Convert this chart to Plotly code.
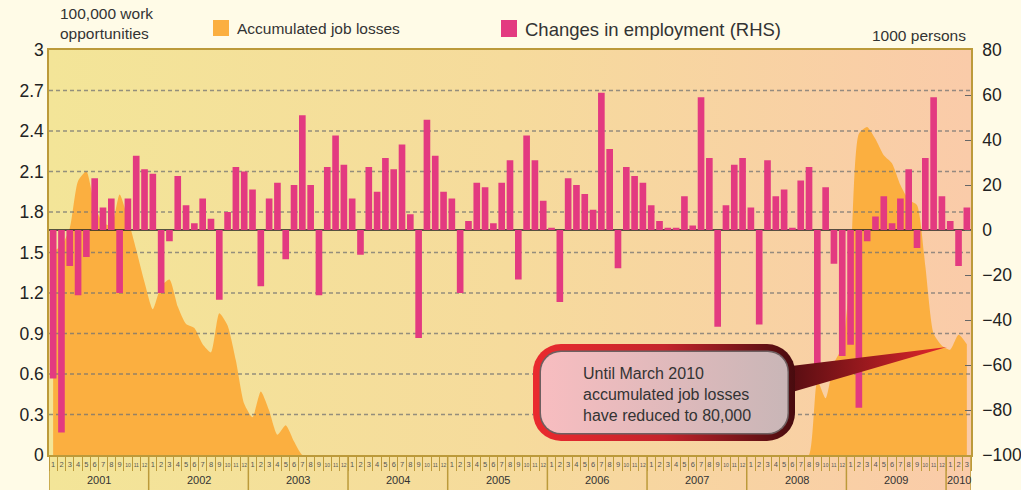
import base64
import plotly.graph_objects as go

# ---------------- data ----------------
years = list(range(2001, 2011))
months_per_year = [12] * 9 + [3]

# Changes in employment, 1000 persons (RHS), Jan 2001 - Mar 2010
emp_change = [
    -66, -90, -16, -29, -12, 23, 10, 14, -28, 14, 33, 27,   # 2001
    25, -28, -5, 24, 11, 3, 14, 5, -31, 8, 28, 26,          # 2002
    18, -25, 14, 21, -13, 20, 51, 20, -29, 28, 42, 29,      # 2003
    14, -11, 28, 17, 32, 27, 38, 7, -48, 49, 33, 17,        # 2004
    14, -28, 4, 21, 19, 3, 21, 31, -22, 42, 31, 13,         # 2005
    1, -32, 23, 20, 16, 9, 61, 36, -17, 28, 24, 21,         # 2006
    11, 4, 1, 1, 15, 2, 59, 32, -43, 11, 29, 32,            # 2007
    10, -42, 31, 15, 18, 1, 22, 28, -60, 19, -15, -56,      # 2008
    -51, -79, -5, 6, 15, 3, 14, 27, -8, 32, 59, 15,         # 2009
    4, -16, 10,                                             # 2010
]

# Accumulated job losses, 100,000 work opportunities (LHS)
acc_losses = [
    1.51, 1.55, 1.68, 2.03, 2.10, 1.85, 1.72, 1.70, 1.93, 1.75, 1.52, 1.28,   # 2001
    1.08, 1.25, 1.30, 1.10, 0.97, 0.94, 0.82, 0.76, 1.05, 0.96, 0.70, 0.38,   # 2002
    0.28, 0.47, 0.33, 0.15, 0.22, 0.10, 0.0, 0.0, 0.0, 0.0, 0.0, 0.0,         # 2003
    0.0, 0.0, 0.0, 0.0, 0.0, 0.0, 0.0, 0.0, 0.0, 0.0, 0.0, 0.0,               # 2004
    0.0, 0.0, 0.0, 0.0, 0.0, 0.0, 0.0, 0.0, 0.0, 0.0, 0.0, 0.0,               # 2005
    0.0, 0.0, 0.0, 0.0, 0.0, 0.0, 0.0, 0.0, 0.0, 0.0, 0.0, 0.0,               # 2006
    0.0, 0.0, 0.0, 0.0, 0.0, 0.0, 0.0, 0.0, 0.0, 0.0, 0.0, 0.0,               # 2007
    0.0, 0.0, 0.0, 0.0, 0.0, 0.0, 0.0, 0.0, 0.55, 0.42, 0.68, 0.80,          # 2008
    1.40, 2.38, 2.43, 2.34, 2.22, 2.16, 2.00, 1.89, 1.85, 1.40, 0.90, 0.81,   # 2009
    0.78, 0.89, 0.82,                                                         # 2010
]

left_ticks = [0, 0.3, 0.6, 0.9, 1.2, 1.5, 1.8, 2.1, 2.4, 2.7, 3]
left_tick_text = ["0", "0.3", "0.6", "0.9", "1.2", "1.5", "1.8", "2.1", "2.4", "2.7", "3"]
right_ticks = [-100, -80, -60, -40, -20, 0, 20, 40, 60, 80]

# --------------- derived ---------------
month_nums = []
for n in months_per_year:
    month_nums += list(range(1, n + 1))
idx = list(range(len(month_nums)))
month_text = [
    (f"<span style='font-size:5px'>{m}</span>" if m >= 10 else str(m))
    for m in month_nums
]
year_start = [sum(months_per_year[:k]) for k in range(len(years))]
year_center = [s + (n - 1) / 2 for s, n in zip(year_start, months_per_year)]
year_bounds = [s - 0.5 for s in year_start] + [len(idx) - 0.5]

LMIN, LMAX = 0, 3
RMIN, RMAX = -100, 80
zero_on_left = LMIN + (LMAX - LMIN) * (0 - RMIN) / (RMAX - RMIN)
XR = [-0.5, len(idx) - 0.5]

# --------------- geometry helpers (pixels -> paper) ---------------
W, H = 1021, 490
ML, MR, MT, MB = 49, 50, 50, 35
PW, PH = W - ML - MR, H - MT - MB


def px(X):
    return (X - ML) / PW


def py(Y):
    return (H - MB - Y) / PH


GOLD = "#BC9A3A"
ORANGE = "#FBAF40"
PINK = "#E33A80"
PAPER = "#FFFBE7"
FONT = "Liberation Sans, Arial, sans-serif"


def svg_uri(svg):
    return "data:image/svg+xml;base64," + base64.b64encode(svg.encode()).decode()


bg_svg = (
    '<svg xmlns="http://www.w3.org/2000/svg" width="922" height="440" '
    'viewBox="0 0 922 440" preserveAspectRatio="none">'
    '<defs><linearGradient id="g" x1="0" y1="0" x2="1" y2="0">'
    '<stop offset="0" stop-color="#F3E598"/>'
    '<stop offset="0.5" stop-color="#F6DB9C"/>'
    '<stop offset="1" stop-color="#FACBA9"/>'
    '</linearGradient></defs>'
    '<rect width="922" height="440" fill="url(#g)"/></svg>'
)

callout_svg = (
    '<svg xmlns="http://www.w3.org/2000/svg" width="430" height="115" '
    'viewBox="0 0 430 115" preserveAspectRatio="none"><defs>'
    '<linearGradient id="pg" gradientUnits="userSpaceOnUse" x1="250" y1="0" x2="422" y2="0">'
    '<stop offset="0" stop-color="#4a0b0f"/><stop offset="1" stop-color="#E3262C"/></linearGradient>'
    '<linearGradient id="bd" gradientUnits="userSpaceOnUse" x1="8" y1="0" x2="270" y2="0">'
    '<stop offset="0" stop-color="#EA2A2E"/><stop offset="0.5" stop-color="#C4242B"/>'
    '<stop offset="1" stop-color="#480b0e"/></linearGradient>'
    '<linearGradient id="fg" gradientUnits="userSpaceOnUse" x1="16" y1="0" x2="262" y2="0">'
    '<stop offset="0" stop-color="#F8BDC0"/><stop offset="1" stop-color="#C9B6B7"/></linearGradient>'
    '</defs>'
    '<polygon points="250,33 250,62 422,12" fill="url(#pg)"/>'
    '<rect x="8" y="9" width="262" height="97" rx="28" fill="url(#bd)"/>'
    '<rect x="14.5" y="15.5" width="249.5" height="84" rx="21" fill="#6e5f60"/>'
    '<rect x="16" y="17" width="246.5" height="81" rx="20" fill="url(#fg)"/>'
    '</svg>'
)

fig = go.Figure()

# accumulated job losses (area, LHS)
fig.add_trace(go.Scatter(
    x=idx, y=acc_losses, mode="lines", fill="tozeroy",
    line=dict(width=0, shape="spline", smoothing=0.6),
    fillcolor=ORANGE, hoverinfo="skip", showlegend=False,
))

# dashed gridlines above the area, below the bars
gx, gy = [], []
for t in left_ticks[1:-1]:
    gx += [XR[0], XR[1], None]
    gy += [t, t, None]
fig.add_trace(go.Scatter(
    x=gx, y=gy, mode="lines",
    line=dict(color="rgba(115,115,115,0.75)", width=1.3, dash="4px,3px"),
    hoverinfo="skip", showlegend=False,
))
# zero line of the RHS axis
fig.add_trace(go.Scatter(
    x=XR, y=[zero_on_left, zero_on_left], mode="lines",
    line=dict(color="#222222", width=1.6),
    hoverinfo="skip", showlegend=False,
))

# changes in employment (bars, RHS)
fig.add_trace(go.Bar(
    x=idx, y=emp_change, yaxis="y2", width=0.8,
    marker=dict(color=PINK, line=dict(width=0)),
    hoverinfo="skip", showlegend=False,
))

shapes = []
for b in year_bounds:
    shapes.append(dict(type="line", xref="x", yref="paper", x0=b, x1=b,
                       y0=0, y1=-MB / PH, line=dict(color=GOLD, width=1.5)))
# legend swatches
shapes.append(dict(type="rect", xref="paper", yref="paper",
                   x0=px(213), x1=px(229), y0=py(36), y1=py(20),
                   fillcolor=ORANGE, line=dict(width=0)))
shapes.append(dict(type="rect", xref="paper", yref="paper",
                   x0=px(501), x1=px(517), y0=py(37), y1=py(20),
                   fillcolor=PINK, line=dict(width=0)))

annotations = []
for y, c in zip(years, year_center):
    annotations.append(dict(x=c, y=py(480), xref="x", yref="paper", text=str(y),
                            showarrow=False, xanchor="center", yanchor="middle",
                            font=dict(size=11, color="#333333", family=FONT)))
annotations += [
    dict(x=px(58), y=py(24), xref="paper", yref="paper",
         text="100,000 work<br>opportunities", showarrow=False,
         xanchor="left", yanchor="middle", align="left",
         font=dict(size=15.5, color="#333333", family=FONT)),
    dict(x=px(235), y=py(28), xref="paper", yref="paper",
         text="Accumulated job losses", showarrow=False,
         xanchor="left", yanchor="middle",
         font=dict(size=15.5, color="#333333", family=FONT)),
    dict(x=px(523), y=py(29), xref="paper", yref="paper",
         text="Changes in employment (RHS)", showarrow=False,
         xanchor="left", yanchor="middle",
         font=dict(size=18.5, color="#333333", family=FONT)),
    dict(x=px(968), y=py(35), xref="paper", yref="paper",
         text="1000 persons", showarrow=False,
         xanchor="right", yanchor="middle",
         font=dict(size=15.5, color="#333333", family=FONT)),
    dict(x=px(581), y=py(394), xref="paper", yref="paper",
         text="Until March 2010<br>accumulated job losses<br>have reduced to 80,000",
         showarrow=False, xanchor="left", yanchor="middle", align="left",
         font=dict(size=16, color="#333333", family=FONT)),
]

images = [
    dict(source=svg_uri(bg_svg), xref="paper", yref="paper",
         x=0, y=1, sizex=1, sizey=(H - MT) / PH,
         xanchor="left", yanchor="top", sizing="stretch", layer="below"),
    dict(source=svg_uri(callout_svg), xref="paper", yref="paper",
         x=px(525), y=py(335), sizex=430 / PW, sizey=115 / PH,
         xanchor="left", yanchor="top", sizing="stretch", layer="above"),
]

fig.update_layout(
    width=W, height=H,
    margin=dict(l=ML, r=MR, t=MT, b=MB, pad=0),
    paper_bgcolor=PAPER,
    plot_bgcolor="rgba(0,0,0,0)",
    font=dict(family=FONT, color="#222222"),
    showlegend=False,
    xaxis=dict(
        range=XR, showgrid=False, zeroline=False,
        tickmode="array", tickvals=idx, ticktext=month_text,
        ticks="", tickfont=dict(size=7.5, color="#555555"),
        ticklabelstandoff=1,
        minor=dict(ticks="outside", ticklen=14, tickcolor=GOLD, tickwidth=1,
                   tick0=-0.5, dtick=1, showgrid=False),
        showline=True, linecolor=GOLD, linewidth=1.5, mirror=True,
        automargin=False,
    ),
    yaxis=dict(
        range=[LMIN, LMAX], tickmode="array", tickvals=left_ticks,
        ticktext=left_tick_text, showgrid=False, zeroline=False, ticks="",
        tickfont=dict(size=17.5, color="#222222"),
        showline=True, linecolor=GOLD, linewidth=1.5,
        automargin=False,
    ),
    yaxis2=dict(
        range=[RMIN, RMAX], overlaying="y", side="right",
        tickmode="array", tickvals=right_ticks, showgrid=False, zeroline=False,
        ticks="inside", ticklen=6, tickcolor="#666666", tickwidth=1.2,
        tickfont=dict(size=17.5, color="#222222"), ticklabelstandoff=6,
        showline=True, linecolor=GOLD, linewidth=1.5,
        automargin=False,
    ),
    shapes=shapes,
    annotations=annotations,
    images=images,
)

fig.write_html(
    "out.html",
    config={"displayModeBar": False},
    post_script=(
        "document.body.style.margin='0px';"
        "document.body.style.padding='0px';"
        f"document.body.style.background='{PAPER}';"
    ),
)
